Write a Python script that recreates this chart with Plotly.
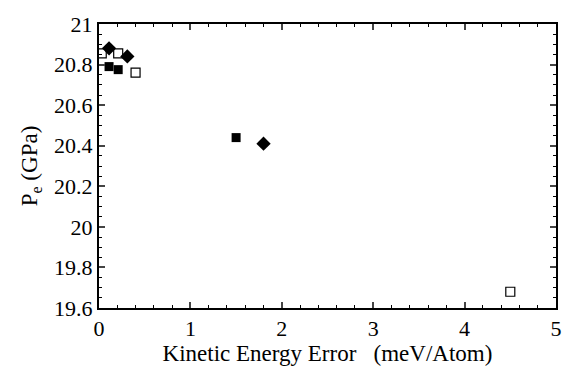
import plotly.graph_objects as go

# Data
open_sq_x = [0.03, 0.21, 0.40, 4.50]
open_sq_y = [20.855, 20.855, 20.76, 19.68]
diam_x = [0.11, 0.31, 1.80]
diam_y = [20.88, 20.84, 20.41]
fill_sq_x = [0.11, 0.21, 1.50]
fill_sq_y = [20.79, 20.775, 20.44]

x_ticks = [0, 1, 2, 3, 4, 5]
y_ticks = [19.6, 19.8, 20, 20.2, 20.4, 20.6, 20.8, 21]
y_tick_text = ["19.6", "19.8", "20", "20.2", "20.4", "20.6", "20.8", "21"]

fig = go.Figure()
fig.add_trace(go.Scatter(x=open_sq_x, y=open_sq_y, mode="markers",
                         marker=dict(symbol="square-open", size=9, color="black",
                                     line=dict(width=1.2))))
fig.add_trace(go.Scatter(x=diam_x, y=diam_y, mode="markers",
                         marker=dict(symbol="diamond", size=11, color="black")))
fig.add_trace(go.Scatter(x=fill_sq_x, y=fill_sq_y, mode="markers",
                         marker=dict(symbol="square", size=9, color="black")))

fam = "Liberation Serif"
tfont = dict(family=fam, size=22, color="black")
titfont = dict(family=fam, size=23, color="black")

fig.update_layout(
    width=574, height=372,
    margin=dict(l=99, r=15, t=16, b=59),
    paper_bgcolor="white", plot_bgcolor="white",
    showlegend=False,
    font=tfont,
    xaxis=dict(range=[0, 5], tickvals=x_ticks, ticks="inside", ticklen=6, tickwidth=1.5,
               showline=True, linewidth=2, linecolor="black", mirror="ticks",
               showgrid=False, zeroline=False,
               minor=dict(dtick=0.2, ticks="inside", ticklen=3, tickwidth=1, tickcolor="black"),
               title=dict(text="Kinetic Energy Error   (meV/Atom)", font=titfont, standoff=2),
               tickfont=tfont),
    yaxis=dict(range=[19.6, 21], tickvals=y_ticks, ticktext=y_tick_text, ticks="inside",
               ticklen=6, tickwidth=1.5,
               showline=True, linewidth=2, linecolor="black", mirror="ticks",
               showgrid=False, zeroline=False,
               minor=dict(dtick=0.05, ticks="inside", ticklen=3, tickwidth=1, tickcolor="black"),
               title=dict(text="P<sub>e</sub> (GPa)", font=titfont, standoff=10),
               tickfont=tfont),
)

fig.write_html("out.html")
